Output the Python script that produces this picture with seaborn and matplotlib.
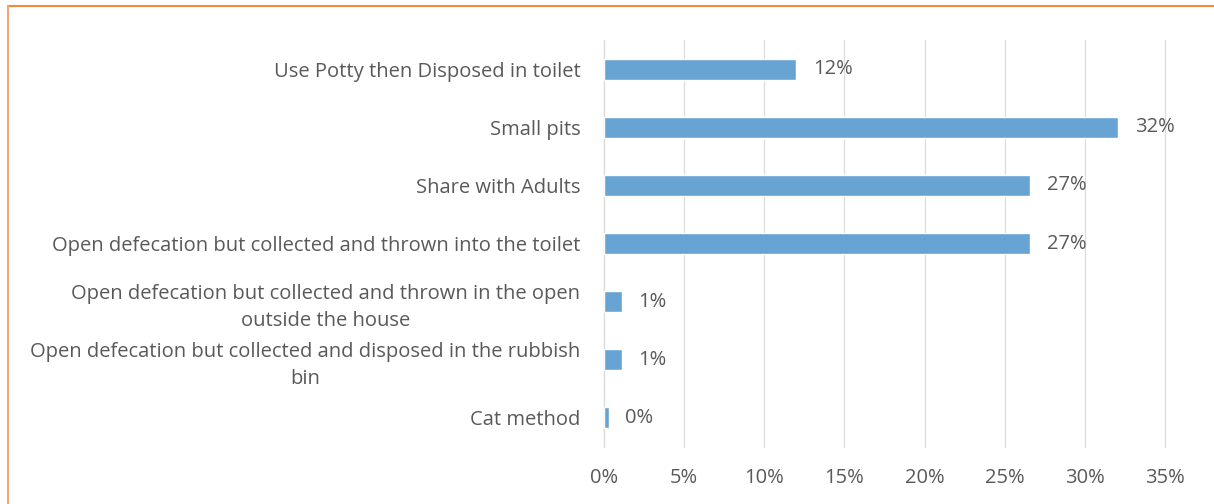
import matplotlib
matplotlib.use("Agg")
import matplotlib.pyplot as plt
from matplotlib.lines import Line2D
import seaborn as sns
import pandas as pd

categories = [
    "Use Potty then Disposed in toilet",
    "Small pits",
    "Share with Adults",
    "Open defecation but collected and thrown into the toilet",
    "Open defecation but collected and thrown in the open\noutside the house",
    "Open defecation but collected and disposed in the rubbish\nbin",
    "Cat method",
]
shares = [12.0, 32.1, 26.6, 26.6, 1.1, 1.1, 0.3]
x_ticks = [0, 5, 10, 15, 20, 25, 30, 35]
x_tick_labels = [f"{t}%" for t in x_ticks]

df = pd.DataFrame({"method": categories, "share": shares})

sns.set_theme(style="white")
plt.rcParams["font.family"] = ["Open Sans", "DejaVu Sans"]

text_color = "#595959"
bar_color = "#67a4d4"
grid_color = "#dcdcdc"
font_size = 14.5

fig = plt.figure(figsize=(12.14, 5.04), dpi=100)
ax = fig.add_axes([0.4975, 0.1131, 0.4621, 0.8075])

sns.barplot(data=df, x="share", y="method", orient="h", color=bar_color,
            width=0.36, saturation=1, ax=ax, zorder=3)

ax.set_xlim(0, 35)
ax.set_ylim(len(categories) - 0.5, -0.5)
ax.set_xticks(x_ticks)
ax.set_xticklabels(x_tick_labels, color=text_color, fontsize=font_size)
ax.set_xlabel("")
ax.set_ylabel("")
ax.xaxis.grid(True, color=grid_color, linewidth=0.9)
for gl in ax.get_xgridlines():
    gl.set_clip_on(False)
ax.set_axisbelow(True)
for side in ["top", "right", "bottom"]:
    ax.spines[side].set_visible(False)
ax.spines["left"].set_color(grid_color)
ax.spines["left"].set_linewidth(0.9)

# category labels centred between boundary ticks
ax.set_yticks(range(len(categories)))
ax.set_yticklabels(categories, color=text_color, fontsize=font_size,
                   multialignment="center", linespacing=1.45)
ax.tick_params(axis="y", length=0, pad=17)
ax.tick_params(axis="x", length=0, pad=15)
ax.set_yticks([i - 0.5 for i in range(len(categories) + 1)], minor=True)
ax.tick_params(axis="y", which="minor", length=5.5, color=grid_color, width=0.9)

for patch, value in zip(ax.patches, shares):
    y = patch.get_y() + patch.get_height() / 2
    ax.annotate(f"{value:.0f}%", xy=(patch.get_width(), y),
                xytext=(12, 0), textcoords="offset points",
                va="center", ha="left", color=text_color, fontsize=font_size)

# frame lines along the top and left edges
fig.add_artist(Line2D([8 / 1214, 1], [1 - 6 / 504, 1 - 6 / 504],
                      transform=fig.transFigure, color="#f08a3c", linewidth=1.5))
fig.add_artist(Line2D([8 / 1214, 8 / 1214], [0, 1 - 6 / 504],
                      transform=fig.transFigure, color="#f0a878", linewidth=1.5))

fig.savefig("out.png", dpi=100, facecolor="white")
